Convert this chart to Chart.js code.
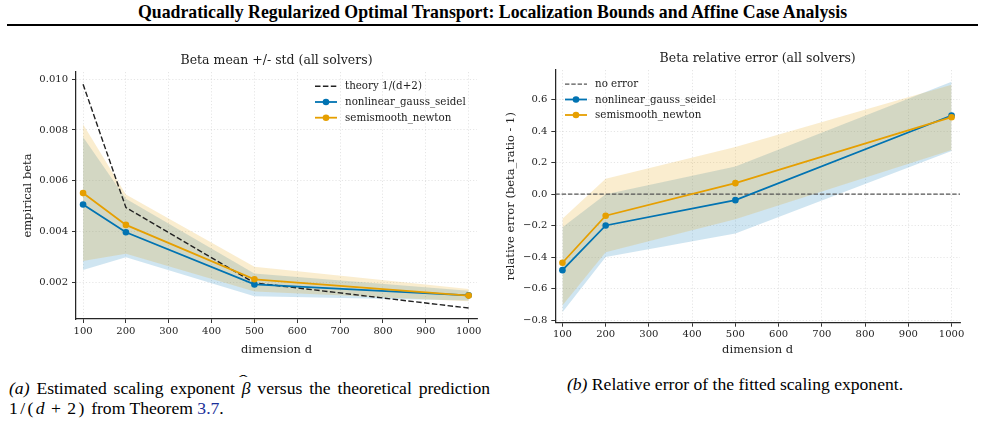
<!DOCTYPE html>
<html>
<head>
<meta charset="utf-8">
<script src="https://cdn.jsdelivr.net/npm/chart.js@4.4.0/dist/chart.umd.min.js"></script>
<style>
  body { margin: 0; width: 985px; height: 440px; background: #fff; position: relative; overflow: hidden; font-family: "Liberation Serif", "Times New Roman", serif; color: #000; }
  #header { position: absolute; left: 0; top: 2px; width: 985px; text-align: center; font-weight: bold; font-size: 17.8px; line-height: 20px; }
  #rule { position: absolute; left: 7px; top: 24px; width: 971px; height: 2px; background: #000; }
  .box { position: absolute; top: 40px; height: 330px; }
  #boxA { left: 0; width: 490px; }
  #boxB { left: 490px; width: 495px; }
  .cap { position: absolute; font-size: 17.6px; line-height: 20px; }
  #capA { left: 9px; top: 378px; width: 481px; }
  #capA .full { text-align: justify; text-align-last: justify; }
  #capB { left: 490px; top: 374px; width: 490px; text-align: center; }
  .ref { color: #1a2f99; }
  .math { letter-spacing: 2.4px; }
  .op { margin: 0 4px; }
  .hat { position: relative; display: inline-block; }
  .hat span { position: absolute; left: 0; right: 0; top: -8px; text-align: center; font-size: 15px; transform: scaleX(1.7); }
</style>
</head>
<body>
<div id="header">Quadratically Regularized Optimal Transport: Localization Bounds and Affine Case Analysis</div>
<div id="rule"></div>
<div class="box" id="boxA"><canvas id="chartA"></canvas></div>
<div class="box" id="boxB"><canvas id="chartB"></canvas></div>
<div class="cap" id="capA"><div class="full"><i>(a)</i> Estimated scaling exponent <span class="hat"><i>β</i><span>ˆ</span></span> versus the theoretical prediction</div><div><span class="math">1/(<i>d</i><span class="op">+</span>2)</span> from Theorem <span class="ref">3.7</span>.</div></div>
<div class="cap" id="capB"><i>(b)</i> Relative error of the fitted scaling exponent.</div>
<script>
// dimensions d
const dims = [100, 200, 500, 1000];
const xTicks = [100, 200, 300, 400, 500, 600, 700, 800, 900, 1000];

// left panel: empirical beta, mean and mean +/- std
const betaTheory = [0.0098, 0.00495, 0.00199, 0.001];
const betaNgs = [0.00507, 0.00398, 0.00193, 0.0015];
const betaNgsLo = [0.0025, 0.003, 0.00146, 0.0013];
const betaNgsHi = [0.00772, 0.0053, 0.00236, 0.00168];
const betaSsn = [0.00552, 0.00427, 0.00213, 0.00149];
const betaSsnLo = [0.00285, 0.00314, 0.00165, 0.00127];
const betaSsnHi = [0.00823, 0.00546, 0.00262, 0.00175];
const betaTicks = [0.002, 0.004, 0.006, 0.008, 0.010];

// right panel: relative error (beta_ratio - 1)
const errNgs = [-0.483, -0.199, -0.038, 0.50];
const errNgsLo = [-0.75, -0.40, -0.25, 0.275];
const errNgsHi = [-0.21, 0.0, 0.175, 0.715];
const errSsn = [-0.436, -0.137, 0.07, 0.489];
const errSsnLo = [-0.707, -0.37, -0.16, 0.28];
const errSsnHi = [-0.156, 0.098, 0.30, 0.695];
const errTicks = [-0.8, -0.6, -0.4, -0.2, 0.0, 0.2, 0.4, 0.6];

const xMin = 83.5, xMax = 1019.5;
const errZero = [0, 0];
const errZeroX = [xMin, xMax];

const BLUE = '#0173b2';
const ORANGE = '#e69f00';
const BLUE_BAND = 'rgba(1, 115, 178, 0.19)';
const ORANGE_BAND = 'rgba(230, 159, 0, 0.19)';
const INK = '#222';
const FONT = "'DejaVu Serif', serif";

function pts(xs, ys) {
    return xs.map((x, i) => ({ x: x, y: ys[i] }));
}

function meanSet(label, ys, color, order) {
    return {
        label: label, data: pts(dims, ys), borderColor: color, backgroundColor: color,
        borderWidth: 1.8, pointRadius: 3.3, pointBorderWidth: 0, pointBackgroundColor: color,
        fill: false, order: order, inLegend: true
    };
}

function bandSets(lo, hi, color, loIndex, order) {
    return [
        { label: 'lo', data: pts(dims, lo), borderWidth: 0, pointRadius: 0, fill: false, order: 9 },
        { label: 'hi', data: pts(dims, hi), borderWidth: 0, pointRadius: 0, fill: loIndex, backgroundColor: color, order: order }
    ];
}

// panel title drawn centred over the plot area
const panelTitle = {
    id: 'panelTitle',
    afterDraw(chart, args, opts) {
        const ctx = chart.ctx, a = chart.chartArea;
        ctx.save();
        ctx.font = '12.5px ' + FONT;
        ctx.fillStyle = INK;
        ctx.textAlign = 'center';
        ctx.textBaseline = 'middle';
        ctx.fillText(opts.text, (a.left + a.right) / 2, a.top - 11);
        ctx.restore();
    }
};

// matplotlib style legend without frame
const inlineLegend = {
    id: 'inlineLegend',
    afterDraw(chart, args, opts) {
        const ctx = chart.ctx;
        const items = chart.data.datasets.filter(ds => ds.inLegend);
        ctx.save();
        ctx.font = '10.3px ' + FONT;
        ctx.textBaseline = 'middle';
        items.forEach((ds, i) => {
            const y = opts.y + i * opts.row;
            ctx.strokeStyle = ds.borderColor;
            ctx.lineWidth = ds.borderWidth;
            ctx.setLineDash(ds.borderDash || []);
            ctx.beginPath();
            ctx.moveTo(opts.x, y);
            ctx.lineTo(opts.x + 22, y);
            ctx.stroke();
            ctx.setLineDash([]);
            if (ds.pointRadius > 0) {
                ctx.fillStyle = ds.borderColor;
                ctx.beginPath();
                ctx.arc(opts.x + 11, y, ds.pointRadius, 0, Math.PI * 2);
                ctx.fill();
            }
            ctx.fillStyle = INK;
            ctx.fillText(ds.label, opts.x + 30, y + 0.5);
        });
        ctx.restore();
    }
};

function makeChart(id, cfg) {
    const gridCommon = {
        color: 'rgba(0,0,0,0.13)', lineWidth: 0.8,
        tickColor: '#333', tickLength: 4, tickWidth: 1, tickBorderDash: []
    };
    const borderCommon = { display: true, color: '#262626', width: 1.25, dash: [1.2, 2] };
    return new Chart(document.getElementById(id), {
        type: 'line',
        data: { datasets: cfg.datasets },
        options: {
            responsive: true,
            maintainAspectRatio: false,
            animation: false,
            layout: { padding: { left: 0, right: cfg.padRight, top: cfg.top, bottom: 0 } },
            plugins: {
                legend: { display: false },
                tooltip: { enabled: false },
                panelTitle: { text: cfg.title },
                inlineLegend: cfg.legend
            },
            scales: {
                x: {
                    type: 'linear', min: xMin, max: xMax,
                    afterBuildTicks: s => { s.ticks = xTicks.map(v => ({ value: v })); },
                    afterFit: s => { s.height = cfg.xHeight; },
                    grid: gridCommon,
                    border: borderCommon,
                    ticks: { color: INK, padding: 2, font: { family: FONT, size: 10 }, callback: v => String(v), maxRotation: 0 },
                    title: { display: true, text: 'dimension d', color: INK, font: { family: FONT, size: 11.5 }, padding: { top: 0, bottom: 13 } }
                },
                y: {
                    type: 'linear', min: cfg.yMin, max: cfg.yMax,
                    afterBuildTicks: s => { s.ticks = cfg.yTicks.map(v => ({ value: v })); },
                    afterFit: s => { s.width = cfg.yWidth; },
                    grid: gridCommon,
                    border: borderCommon,
                    ticks: { color: INK, padding: 4, font: { family: FONT, size: 10 }, callback: cfg.yFormat },
                    title: { display: true, text: cfg.yTitle, color: INK, font: { family: FONT, size: 11.5 }, padding: { top: cfg.yTitlePad, bottom: 0 } }
                }
            }
        },
        plugins: [panelTitle, inlineLegend]
    });
}

const leftSets = [
    { label: 'theory 1/(d+2)', data: pts(dims, betaTheory), borderColor: INK, borderWidth: 1.4, borderDash: [5.5, 2.4], pointRadius: 0, fill: false, order: 2, inLegend: true },
    meanSet('nonlinear_gauss_seidel', betaNgs, BLUE, 1),
    meanSet('semismooth_newton', betaSsn, ORANGE, 0)
].concat(bandSets(betaNgsLo, betaNgsHi, BLUE_BAND, 3, 4), bandSets(betaSsnLo, betaSsnHi, ORANGE_BAND, 5, 3));

makeChart('chartA', {
    datasets: leftSets,
    title: 'Beta mean +/- std (all solvers)',
    legend: { x: 315, y: 46.3, row: 15.7 },
    padRight: 13, top: 32, xHeight: 51, yWidth: 76,
    yMin: 0.00057, yMax: 0.01028, yTicks: betaTicks,
    yFormat: v => v.toFixed(3),
    yTitle: 'empirical beta', yTitlePad: 21.4
});

const rightSets = [
    { label: 'no error', data: pts(errZeroX, errZero), borderColor: '#555', borderWidth: 1.25, borderDash: [4.4, 1.9], pointRadius: 0, fill: false, order: 2, inLegend: true },
    meanSet('nonlinear_gauss_seidel', errNgs, BLUE, 1),
    meanSet('semismooth_newton', errSsn, ORANGE, 0)
].concat(bandSets(errNgsLo, errNgsHi, BLUE_BAND, 3, 4), bandSets(errSsnLo, errSsnHi, ORANGE_BAND, 5, 3));

makeChart('chartB', {
    datasets: rightSets,
    title: 'Beta relative error (all solvers)',
    legend: { x: 75, y: 44, row: 15.5 },
    padRight: 25, top: 30, xHeight: 47.3, yWidth: 65.3,
    yMin: -0.817, yMax: 0.789, yTicks: errTicks,
    yFormat: v => (Math.abs(v) < 1e-9 ? '0.0' : v.toFixed(1).replace('-', '\u2212')),
    yTitle: 'relative error (beta_ratio - 1)', yTitlePad: 13.8
});
</script>
</body>
</html>
